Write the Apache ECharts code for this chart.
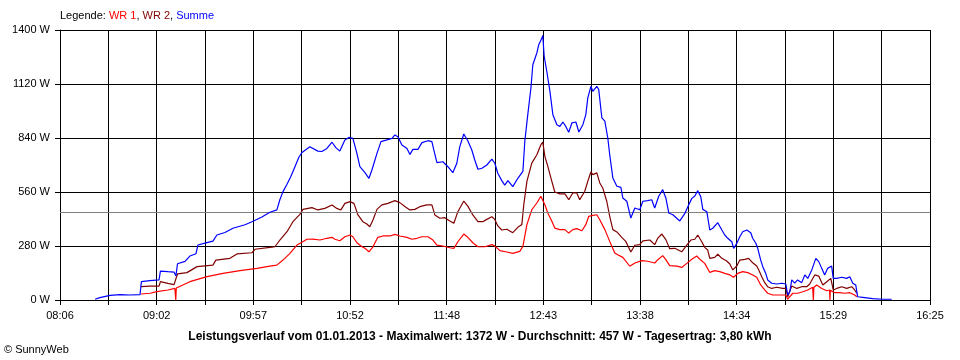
<!DOCTYPE html>
<html><head><meta charset="utf-8">
<script src="https://cdn.jsdelivr.net/npm/echarts@6/dist/echarts.min.js"></script>
<style>html,body{margin:0;padding:0;background:#fff}#c{width:960px;height:360px}</style>
</head><body><div id="c"></div>
<script>
// x values: minutes after 08:06 (axis start); y values: watts
const tickLabels = ['08:06','09:02','09:57','10:52','11:48','12:43','13:38','14:34','15:29','16:25'];
const spanMinutes = 499; // 08:06 -> 16:25
const yMax = 1400;
const yStep = 280;
const average = 457;
const legendParts = ['Legende: ', 'WR 1', 'WR 2', 'Summe'];
const titleText = 'Leistungsverlauf vom 01.01.2013 - Maximalwert: 1372 W - Durchschnitt: 457 W - Tagesertrag: 3,80 kWh';
const copyright = '\u00A9 SunnyWeb';

const wr1 = [[46.4,31],[51.6,35],[55.6,43],[61.9,52],[65.9,60],[66.4,0],[66.7,62],[74.5,95],[84.3,121],[93.5,138],[103.2,152],[113.0,164],[120.4,176],[124.4,181],[127.9,207],[131.9,242],[135.9,285],[139.3,302],[141.6,315],[145.1,316],[149.1,311],[153.1,320],[156.0,325],[157.7,315],[160.5,307],[163.4,328],[166.3,337],[168.0,328],[170.3,297],[173.2,276],[174.9,268],[177.2,250],[179.5,276],[182.3,325],[185.2,332],[189.2,332],[192.1,340],[194.9,332],[199.0,325],[201.8,315],[204.7,320],[207.6,328],[211.0,328],[213.9,311],[216.2,285],[219.6,280],[223.6,271],[225.9,268],[228.2,302],[231.6,342],[233.9,325],[236.8,297],[239.7,276],[243.7,276],[247.7,287],[249.4,280],[252.3,256],[256.3,249],[259.7,242],[263.7,252],[265.5,278],[267.8,391],[270.6,468],[273.5,503],[275.8,538],[276.9,543],[278.1,494],[279.8,451],[282.1,408],[283.8,373],[286.7,365],[289.6,365],[291.8,347],[294.1,365],[296.4,370],[299.3,359],[301.6,391],[303.3,434],[305.6,439],[307.9,442],[309.6,416],[312.5,365],[315.3,304],[318.2,244],[319.9,235],[322.8,221],[326.8,175],[329.7,192],[333.7,204],[337.1,201],[341.1,192],[342.9,209],[345.7,230],[347.5,209],[349.7,178],[353.8,176],[356.6,169],[359.5,190],[362.4,211],[365.2,228],[367.5,207],[369.8,190],[372.7,143],[375.5,152],[378.4,147],[381.3,138],[384.2,130],[386.4,118],[388.7,138],[391.6,147],[394.5,142],[397.3,130],[399.6,118],[401.9,78],[404.2,52],[405.9,35],[408.8,26],[412.8,26],[416.3,26],[417.4,4],[420.3,35],[423.1,35],[426.0,43],[428.9,52],[431.7,66],[432.1,0],[432.4,66],[434.0,78],[436.9,60],[439.8,48],[441.4,52],[441.6,0],[441.8,50],[442.6,52],[444.4,38],[447.2,38],[450.1,35],[453.0,38],[455.8,26],[457.0,17]];

const wr2 = [[46.4,69],[51.6,72],[56.8,72],[57.6,95],[61.9,86],[65.4,80],[66.5,78],[67.4,135],[72.8,142],[78.6,173],[87.7,181],[89.4,207],[97.5,216],[101.5,239],[110.1,245],[111.8,263],[120.4,273],[123.3,276],[126.1,311],[130.2,354],[133.6,406],[137.6,444],[139.3,470],[144.5,479],[147.9,467],[151.9,475],[156.0,493],[158.8,475],[161.1,467],[163.4,501],[166.3,510],[168.6,501],[170.9,441],[173.7,406],[176.0,394],[177.7,380],[179.5,415],[181.8,470],[184.6,493],[188.1,501],[192.1,515],[194.9,505],[198.4,481],[200.7,467],[203.5,470],[206.4,484],[210.4,493],[213.3,493],[215.0,441],[217.9,424],[220.7,427],[223.6,410],[225.9,398],[228.2,458],[231.6,513],[233.9,487],[236.8,441],[239.7,406],[242.5,406],[244.8,418],[247.7,432],[249.4,418],[251.1,384],[253.4,363],[256.3,367],[259.7,349],[262.6,377],[264.9,391],[266.0,494],[267.8,615],[270.6,710],[273.5,753],[275.8,805],[276.9,819],[278.1,745],[279.8,693],[282.1,615],[283.8,560],[286.7,550],[289.6,550],[291.8,520],[294.1,555],[296.4,555],[298.1,520],[301.0,564],[302.7,615],[304.5,664],[305.6,650],[307.9,659],[309.6,607],[311.3,581],[313.6,512],[315.3,434],[317.1,365],[319.4,353],[322.2,325],[324.5,304],[327.4,249],[329.7,284],[332.5,287],[334.3,307],[338.3,311],[341.1,287],[342.9,321],[345.2,342],[347.5,313],[349.7,266],[352.6,268],[356.6,250],[359.5,285],[361.8,311],[364.1,315],[365.8,337],[368.1,302],[369.8,273],[371.5,259],[372.7,216],[375.5,221],[377.3,237],[379.6,216],[382.4,202],[384.2,187],[385.9,156],[388.2,176],[389.9,207],[392.8,211],[395.0,216],[397.3,193],[399.6,176],[400.8,156],[402.5,121],[404.2,90],[405.9,69],[408.2,60],[411.1,66],[414.5,60],[416.3,60],[417.4,17],[419.7,73],[422.6,60],[425.4,69],[428.3,69],[430.0,83],[432.9,130],[435.2,124],[437.5,78],[439.8,95],[442.1,112],[443.5,52],[445.5,60],[448.4,69],[451.2,60],[454.1,69],[455.8,52],[457.0,35]];

const summe = [[20.1,4],[22.9,12],[28.7,24],[34.4,28],[40.1,26],[45.9,28],[46.7,95],[51.6,100],[56.8,104],[57.6,150],[61.9,147],[65.4,145],[66.5,125],[67.4,188],[71.7,200],[74.5,228],[78.0,240],[79.1,285],[83.1,295],[87.7,305],[90.0,337],[94.6,350],[99.2,372],[106.1,390],[110.1,406],[115.8,430],[120.4,455],[124.4,467],[126.1,520],[127.9,562],[130.2,600],[132.4,640],[134.7,690],[137.0,740],[138.8,765],[143.3,795],[147.9,772],[150.2,770],[153.1,786],[156.0,818],[158.2,790],[160.5,772],[163.4,830],[165.7,843],[168.0,838],[170.3,760],[172.0,691],[174.9,660],[177.2,631],[178.9,674],[181.8,760],[184.1,821],[187.5,830],[190.4,838],[192.1,856],[193.8,847],[196.1,804],[199.0,786],[200.7,755],[202.4,781],[205.3,781],[207.6,816],[211.0,826],[213.3,821],[214.4,778],[216.2,712],[219.6,717],[222.5,691],[225.3,660],[227.6,709],[229.3,795],[231.6,861],[233.9,826],[236.2,778],[237.9,726],[239.7,678],[242.0,683],[244.8,700],[247.7,730],[249.4,709],[251.1,657],[253.4,619],[255.1,596],[256.9,619],[259.7,588],[262.6,631],[263.7,636],[265.5,667],[266.6,823],[268.3,961],[270.1,1099],[271.2,1220],[273.5,1281],[274.6,1324],[276.4,1358],[276.9,1372],[277.7,1264],[279.2,1186],[281.0,1082],[282.7,961],[285.0,909],[286.7,900],[288.4,923],[290.1,900],[291.8,870],[293.6,918],[295.9,923],[297.6,871],[299.9,909],[301.6,961],[302.7,1047],[304.5,1108],[305.6,1082],[307.9,1108],[309.0,1091],[310.8,944],[312.5,927],[314.2,840],[315.3,753],[317.1,633],[319.4,590],[321.7,584],[322.8,529],[325.1,512],[327.4,425],[329.7,477],[332.5,468],[334.3,512],[337.1,515],[339.4,520],[341.1,477],[343.4,538],[345.7,572],[347.5,529],[349.2,451],[351.5,442],[352.6,446],[355.5,410],[358.4,449],[360.1,484],[362.4,527],[364.1,539],[365.8,567],[367.5,536],[368.7,470],[371.0,458],[372.7,363],[374.4,372],[377.3,401],[379.6,363],[381.3,337],[383.0,320],[385.3,302],[386.4,268],[388.2,294],[389.9,328],[391.6,354],[393.9,363],[396.2,349],[397.3,320],[399.1,294],[400.2,268],[401.9,207],[403.1,173],[404.8,138],[405.9,104],[408.2,87],[411.1,83],[414.0,87],[416.3,83],[417.4,26],[418.6,43],[419.7,104],[421.4,87],[423.1,104],[425.4,90],[427.2,130],[428.9,112],[431.2,156],[433.5,216],[435.2,199],[436.9,164],[438.6,130],[440.3,164],[442.6,176],[443.5,112],[445.5,112],[448.4,118],[451.2,112],[453.0,121],[454.7,87],[456.4,78],[457.5,17],[460.4,14],[466.1,7],[471.9,4],[477.0,4]];

const xStep = spanMinutes / 18;
const FONT = 'Liberation Sans';
const chart = echarts.init(document.getElementById('c'), null, {renderer: 'canvas'});
chart.setOption({
  animation: false,
  backgroundColor: '#ffffff',
  title: [
    {
      left: 60, top: 10, padding: 0,
      text: '{k|' + legendParts[0] + '}{a|' + legendParts[1] + '}{k|, }{b|' + legendParts[2] + '}{k|, }{c|' + legendParts[3] + '}',
      textStyle: {
        fontSize: 11, fontWeight: 'normal', fontFamily: FONT,
        rich: {
          k: {color: '#000000', fontSize: 11, fontFamily: FONT},
          a: {color: '#ff0000', fontSize: 11, fontFamily: FONT},
          b: {color: '#800000', fontSize: 11, fontFamily: FONT},
          c: {color: '#0000ff', fontSize: 11, fontFamily: FONT}
        }
      }
    },
    {
      left: 'center', top: 331, padding: 0, text: titleText,
      textStyle: {fontSize: 12, fontWeight: 'bold', color: '#000000', fontFamily: FONT}
    },
    {
      left: 4, top: 344, padding: 0, text: copyright,
      textStyle: {fontSize: 11, fontWeight: 'normal', color: '#000000', fontFamily: FONT}
    }
  ],
  grid: {left: 60, right: 30, top: 30, bottom: 60},
  xAxis: {
    type: 'value', min: 0, max: xStep * 18, interval: xStep,
    axisLine: {show: true, onZero: false, lineStyle: {color: '#000000', width: 1}},
    axisTick: {show: true, length: 5, lineStyle: {color: '#000000', width: 1}},
    axisLabel: {
      show: true, margin: 10, color: '#000000', fontSize: 11, fontFamily: FONT,
      formatter: function (v) {
        const k = Math.round(v / xStep);
        return (k % 2 === 0) ? (tickLabels[k / 2] || '') : '';
      }
    },
    splitLine: {show: true, lineStyle: {color: '#000000', width: 1}}
  },
  yAxis: {
    type: 'value', min: 0, max: yMax, interval: yStep,
    axisLine: {show: true, lineStyle: {color: '#000000', width: 1}},
    axisTick: {show: true, length: 5, lineStyle: {color: '#000000', width: 1}},
    axisLabel: {show: true, margin: 10, color: '#000000', fontSize: 11, fontFamily: FONT,
      formatter: function (v) { return v + ' W'; }},
    splitLine: {show: true, lineStyle: {color: '#000000', width: 1}}
  },
  series: [
    {
      name: 'WR 1', type: 'line', data: wr1, showSymbol: false, symbol: 'none',
      lineStyle: {color: '#ff0000', width: 1.2}, itemStyle: {color: '#ff0000'}, z: 3
    },
    {
      name: 'WR 2', type: 'line', data: wr2, showSymbol: false, symbol: 'none',
      lineStyle: {color: '#800000', width: 1.2}, itemStyle: {color: '#800000'}, z: 4
    },
    {
      name: 'Summe', type: 'line', data: summe, showSymbol: false, symbol: 'none',
      lineStyle: {color: '#0000ff', width: 1.2}, itemStyle: {color: '#0000ff'}, z: 5,
      markLine: {
        silent: true, symbol: ['none', 'none'], label: {show: false},
        lineStyle: {color: '#808080', type: 'solid', width: 1},
        data: [{yAxis: average}]
      }
    }
  ]
});
</script>
</body></html>
